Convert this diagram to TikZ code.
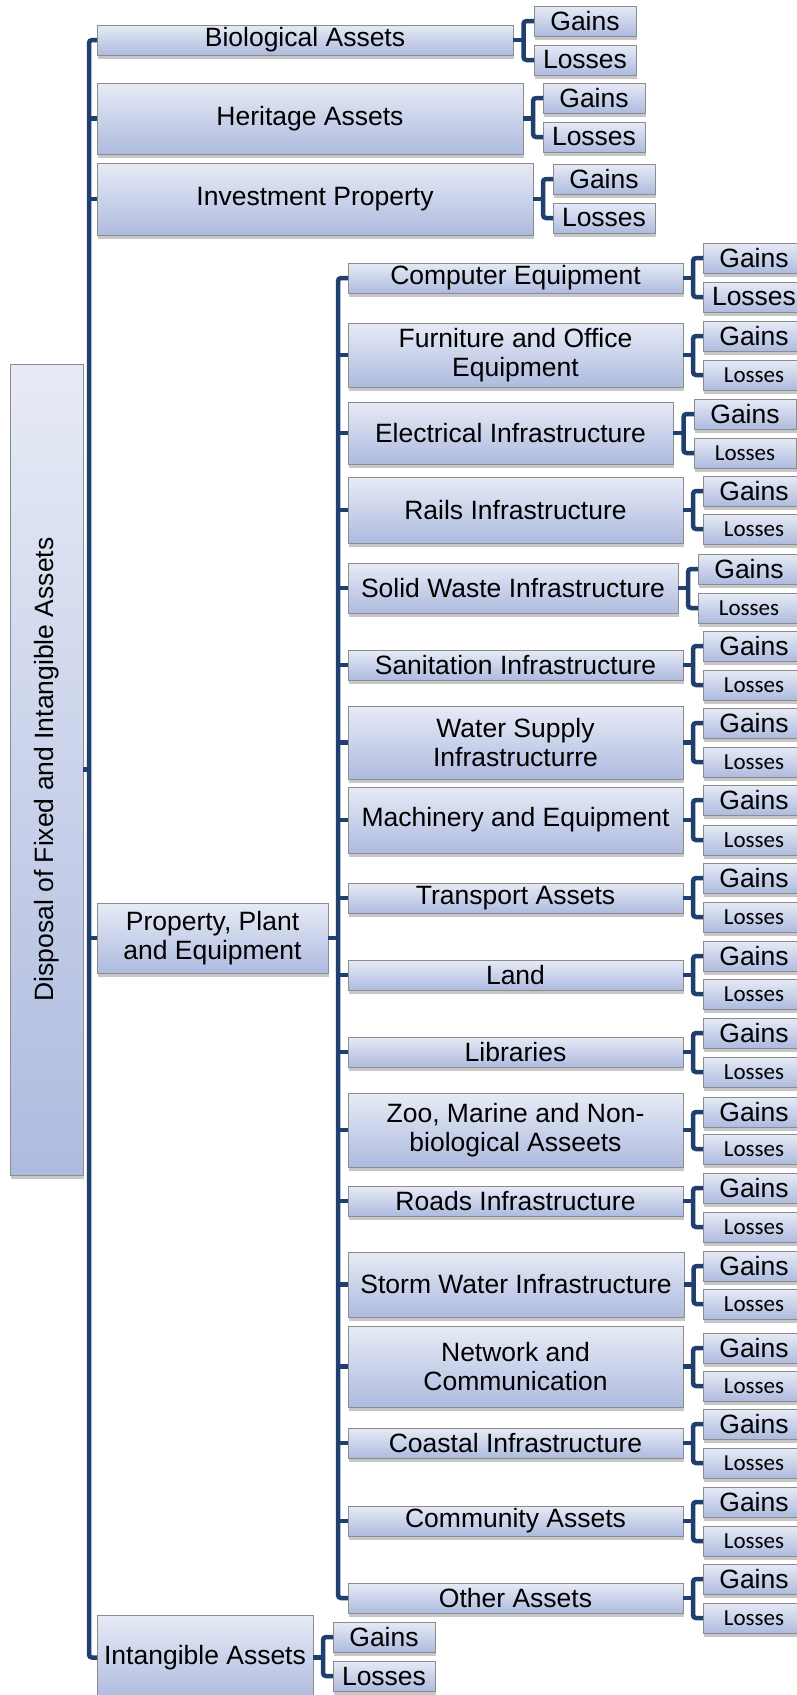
\documentclass[tikz,border=0pt]{standalone}
\usepackage{fontspec}
\usepackage{graphicx}
\setmainfont{Liberation Sans}
\newfontfamily\calfont{Carlito}
\usetikzlibrary{calc,shadows}
\definecolor{gtop}{RGB}{231,235,246}
\definecolor{gbot}{RGB}{174,187,223}
\definecolor{bord}{RGB}{140,140,140}
\definecolor{navy}{RGB}{31,63,110}
\tikzset{
  bx/.style={draw=bord, line width=1pt, top color=gtop, bottom color=gbot,
    inner sep=0pt, outer sep=0pt, align=center,
    font=\fontsize{26.5}{28.3}\selectfont,
    drop shadow={shadow xshift=1pt, shadow yshift=-4pt, opacity=0.22, fill=black}},
  lc/.style={bx, font=\calfont\fontsize{23}{25}\selectfont},
  conn/.style={draw=navy, line width=4.5pt, rounded corners=3pt},
}
% #1 style, #2 name, #3 x1, #4 y1, #5 x2, #6 y2, #7 text
\newcommand\mybox[7]{%
  \node[#1, minimum width={#5-#3}, minimum height={#6-#4}] (#2) at ({(#3+#5)/2},{(#4+#6)/2}) {#7};}
% #1 prefix, #2 x1, #3 gains y1, #4 losses y1, #5 losses style, #6 parent
\newcommand\gainloss[6]{%
  \mybox{bx}{#1G}{#2}{#3}{#2+102}{#3+30}{Gains}
  \mybox{#5}{#1L}{#2}{#4}{#2+102}{#4+30}{Losses}
  \coordinate (#1m) at ($(#6.east)!0.5!(#6.east -| #1G.west)$);
  \draw[conn] (#6.east) -- (#1m);
  \draw[conn] (#1G.west) -| (#1m) |- (#1L.west);}
\begin{document}
\begin{tikzpicture}[x=1pt,y=-1pt]
\clip (0,0) rectangle (797,1695);
\fill[white] (0,0) rectangle (797,1695);
% root
\mybox{bx}{root}{10}{364}{83}{1175}{\rotatebox{90}{Disposal of Fixed and Intangible Assets}}
% level 1
\mybox{bx}{bio}{97}{25}{513}{55}{Biological Assets}
\mybox{bx}{her}{97}{83}{523}{154}{Heritage Assets}
\mybox{bx}{inv}{97}{163}{533}{235}{Investment Property}
\mybox{bx}{ppe}{97}{903}{328}{973}{Property, Plant\\and Equipment}
\mybox{bx}{int}{97}{1615}{313}{1700}{Intangible Assets}
\draw[conn] (bio.west) -- ++(-8,0) |- (int.west);
\draw[conn] (her.west) -- ++(-8,0);
\draw[conn] (inv.west) -- ++(-8,0);
\draw[conn] (ppe.west) -- ++(-8,0);
\draw[conn] (root.east) -- ++(6,0);
\gainloss{bio}{534}{6}{45}{bx}{bio}
\gainloss{her}{543}{83}{122}{bx}{her}
\gainloss{inv}{553}{164}{203}{bx}{inv}
\gainloss{int}{333}{1622}{1661}{bx}{int}
% level 2
\mybox{bx}{ce}{348}{263}{683}{293}{Computer Equipment}
\mybox{bx}{fur}{348}{323}{683}{387}{Furniture and Office\\Equipment}
\mybox{bx}{ele}{348}{402}{673}{464}{Electrical Infrastructure}
\mybox{bx}{rail}{348}{477}{683}{543}{Rails Infrastructure}
\mybox{bx}{sw}{348}{563}{678}{613}{Solid Waste Infrastructure}
\mybox{bx}{san}{348}{650}{683}{680}{Sanitation Infrastructure}
\mybox{bx}{ws}{348}{706}{683}{779}{Water Supply\\Infrastructurre}
\mybox{bx}{mach}{348}{787}{683}{853}{Machinery and Equipment}
\mybox{bx}{trans}{348}{883}{683}{913}{Transport Assets}
\mybox{bx}{land}{348}{960}{683}{990}{Land}
\mybox{bx}{lib}{348}{1037}{683}{1067}{Libraries}
\mybox{bx}{zoo}{348}{1093}{683}{1167}{Zoo, Marine and Non-\\biological Asseets}
\mybox{bx}{roads}{348}{1186}{683}{1216}{Roads Infrastructure}
\mybox{bx}{storm}{348}{1252}{684}{1317}{Storm Water Infrastructure}
\mybox{bx}{net}{348}{1326}{683}{1407}{Network and\\Communication}
\mybox{bx}{coast}{348}{1428}{683}{1458}{Coastal Infrastructure}
\mybox{bx}{comm}{348}{1506}{683}{1536}{Community Assets}
\mybox{bx}{other}{348}{1583}{683}{1613}{Other Assets}
\draw[conn] (ce.west) -- ++(-10,0) |- (other.west);
\foreach \n in {fur,ele,rail,sw,san,ws,mach,trans,land,lib,zoo,roads,storm,net,coast,comm}
  \draw[conn] (\n.west) -- ++(-10,0);
\draw[conn] (ppe.east) -- ++(10,0);
\gainloss{ce}{703}{243}{282}{bx}{ce}
\gainloss{fur}{703}{321}{360}{lc}{fur}
\gainloss{ele}{694}{399}{438}{lc}{ele}
\gainloss{rail}{703}{476}{514}{lc}{rail}
\gainloss{sw}{698}{554}{593}{lc}{sw}
\gainloss{san}{703}{631}{670}{lc}{san}
\gainloss{ws}{703}{708}{747}{lc}{ws}
\gainloss{mach}{703}{785}{825}{lc}{mach}
\gainloss{trans}{703}{863}{902}{lc}{trans}
\gainloss{land}{703}{941}{979}{lc}{land}
\gainloss{lib}{703}{1018}{1057}{lc}{lib}
\gainloss{zoo}{703}{1097}{1134}{lc}{zoo}
\gainloss{roads}{703}{1173}{1212}{lc}{roads}
\gainloss{storm}{703}{1251}{1289}{lc}{storm}
\gainloss{net}{703}{1333}{1371}{lc}{net}
\gainloss{coast}{703}{1409}{1448}{lc}{coast}
\gainloss{comm}{703}{1487}{1526}{lc}{comm}
\gainloss{other}{703}{1564}{1603}{lc}{other}
\end{tikzpicture}
\end{document}
